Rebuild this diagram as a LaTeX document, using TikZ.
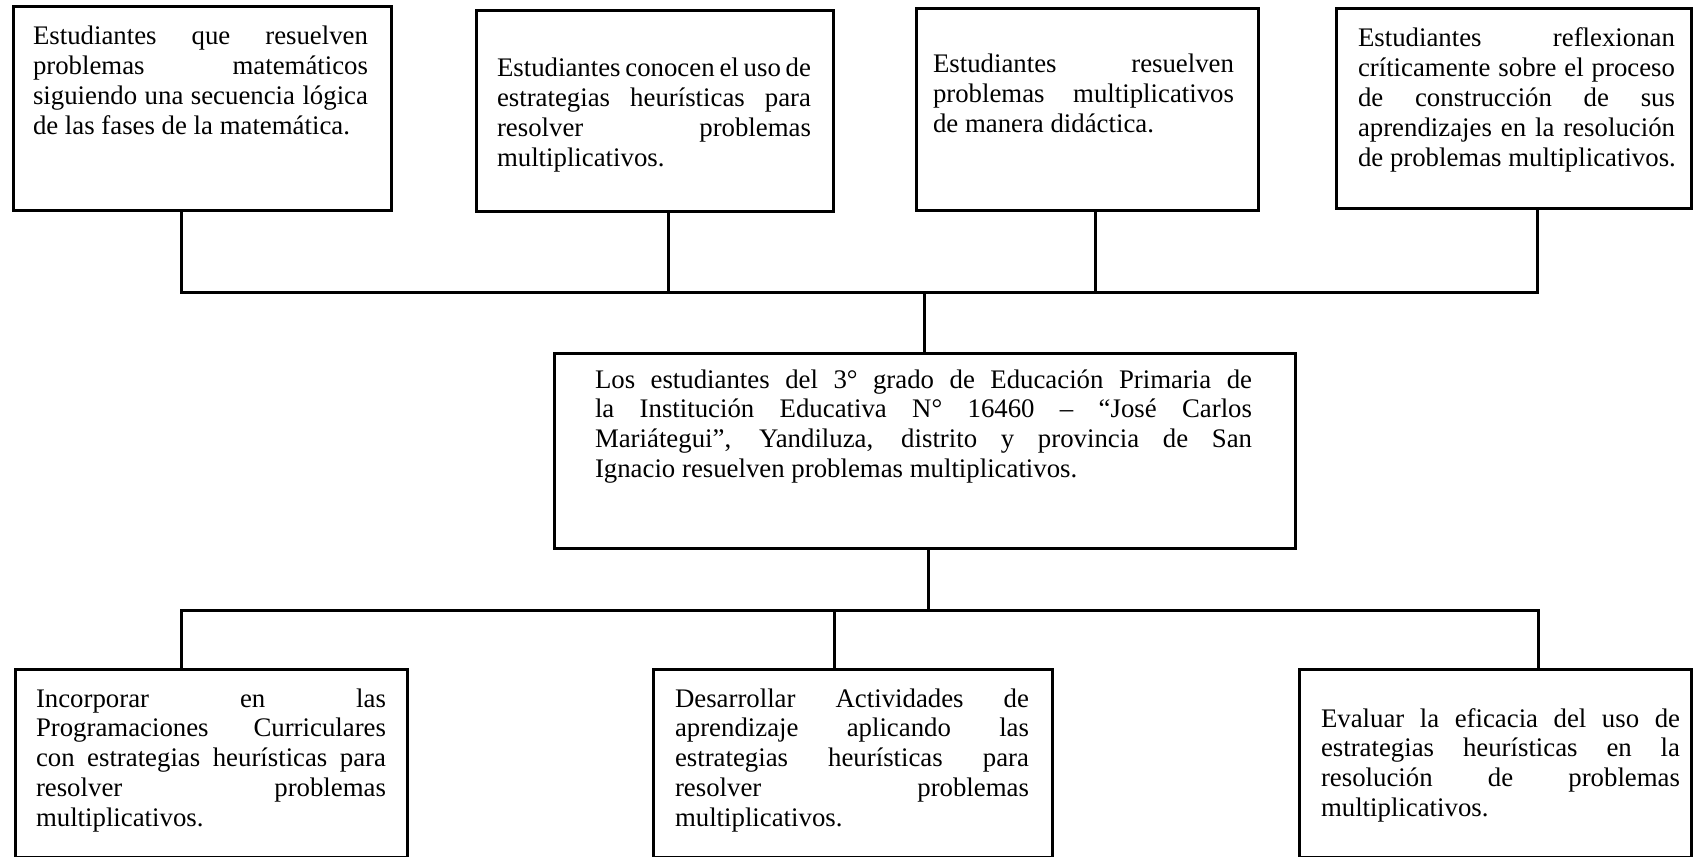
\documentclass[tikz,border=0pt]{standalone}
\usepackage{fontspec}
\setmainfont{Liberation Serif}
\newcommand\JL[1]{\makebox[\hsize][s]{\spaceskip=0pt\xspaceskip=0pt\relax #1}}
\newcommand\LL[1]{\mbox{\spaceskip=0pt\xspaceskip=0pt\relax #1}}
\hbadness=10000 \hfuzz=20pt
\begin{document}
\begin{tikzpicture}[x=1pt,y=-1pt,
  box/.style={draw=black, line width=3pt, inner sep=0pt, outer sep=0pt, fill=white, anchor=north west},
  txt/.style={inner sep=0pt, outer sep=0pt, anchor=base west, align=left,
              font={\fontsize{26.8}{29.8}\selectfont}},
  conn/.style={draw=black, line width=3pt, line join=miter}]
\useasboundingbox[fill=white] (0,0) rectangle (1693,856);

% top boxes
\node[box, minimum width=378pt, minimum height=203pt] (t1) at (13,7) {};
\node[box, minimum width=357pt, minimum height=200pt] (t2) at (476,11) {};
\node[box, minimum width=342pt, minimum height=201pt] (t3) at (916,9) {};
\node[box, minimum width=355pt, minimum height=199pt] (t4) at (1336,9) {};
% centre box
\node[box, minimum width=741pt, minimum height=195pt] (c) at (554,353) {};
% bottom boxes
\node[box, minimum width=392pt, minimum height=188pt] (b1) at (15,669) {};
\node[box, minimum width=399pt, minimum height=188pt] (b2) at (653,669) {};
\node[box, minimum width=392pt, minimum height=188pt] (b3) at (1299,669) {};

% texts
\node[txt, text width=335pt] (x1) at (33,45) {\JL{Estudiantes que resuelven}\\\JL{problemas matemáticos}\\\JL{siguiendo una secuencia lógica}\\\LL{de las fases de la matemática.}};
\node[txt, text width=314pt] (x2) at (497,77) {\JL{Estudiantes conocen el uso de}\\\JL{estrategias heurísticas para}\\\JL{resolver problemas}\\\LL{multiplicativos.}};
\node[txt, text width=301pt] (x3) at (933,73) {\JL{Estudiantes resuelven}\\\JL{problemas multiplicativos}\\\LL{de manera didáctica.}};
\node[txt, text width=317pt] (x4) at (1358,47) {\JL{Estudiantes reflexionan}\\\JL{críticamente sobre el proceso}\\\JL{de construcción de sus}\\\JL{aprendizajes en la resolución}\\\LL{de problemas multiplicativos.}};
\node[txt, text width=657pt] (xc) at (595,388) {\JL{Los estudiantes del 3° grado de Educación Primaria de}\\\JL{la Institución Educativa N° 16460 – “José Carlos}\\\JL{Mariátegui”, Yandiluza, distrito y provincia de San}\\\LL{Ignacio resuelven problemas multiplicativos.}};
\node[txt, text width=350pt] (y1) at (36,707) {\JL{Incorporar en las}\\\JL{Programaciones Curriculares}\\\JL{con estrategias heurísticas para}\\\JL{resolver problemas}\\\LL{multiplicativos.}};
\node[txt, text width=354pt] (y2) at (675,707) {\JL{Desarrollar Actividades de}\\\JL{aprendizaje aplicando las}\\\JL{estrategias heurísticas para}\\\JL{resolver problemas}\\\LL{multiplicativos.}};
\node[txt, text width=359pt] (y3) at (1321,727) {\JL{Evaluar la eficacia del uso de}\\\JL{estrategias heurísticas en la}\\\JL{resolución de problemas}\\\LL{multiplicativos.}};

% junction coordinates
\coordinate (j1) at (181,292);
\coordinate (j2) at (668,292);
\coordinate (j3) at (1095,292);
\coordinate (j4) at (1537,292);
\coordinate (jc) at (924,292);
\coordinate (kc) at (928,610);
\coordinate (k1) at (181,610);
\coordinate (k2) at (834,610);
\coordinate (k3) at (1538,610);

% top connectors
\draw[conn] (j1 |- t1.south) -- (j1) -- (j4) -- (j4 |- t4.south);
\draw[conn] (j2 |- t2.south) -- (j2);
\draw[conn] (j3 |- t3.south) -- (j3);
\draw[conn] (jc) -- (jc |- c.north);
% bottom connectors
\draw[conn] (c.south -| kc) -- (kc);
\draw[conn] (k1 |- b1.north) -- (k1) -- (k3) -- (k3 |- b3.north);
\draw[conn] (k2) -- (k2 |- b2.north);
\end{tikzpicture}
\end{document}
